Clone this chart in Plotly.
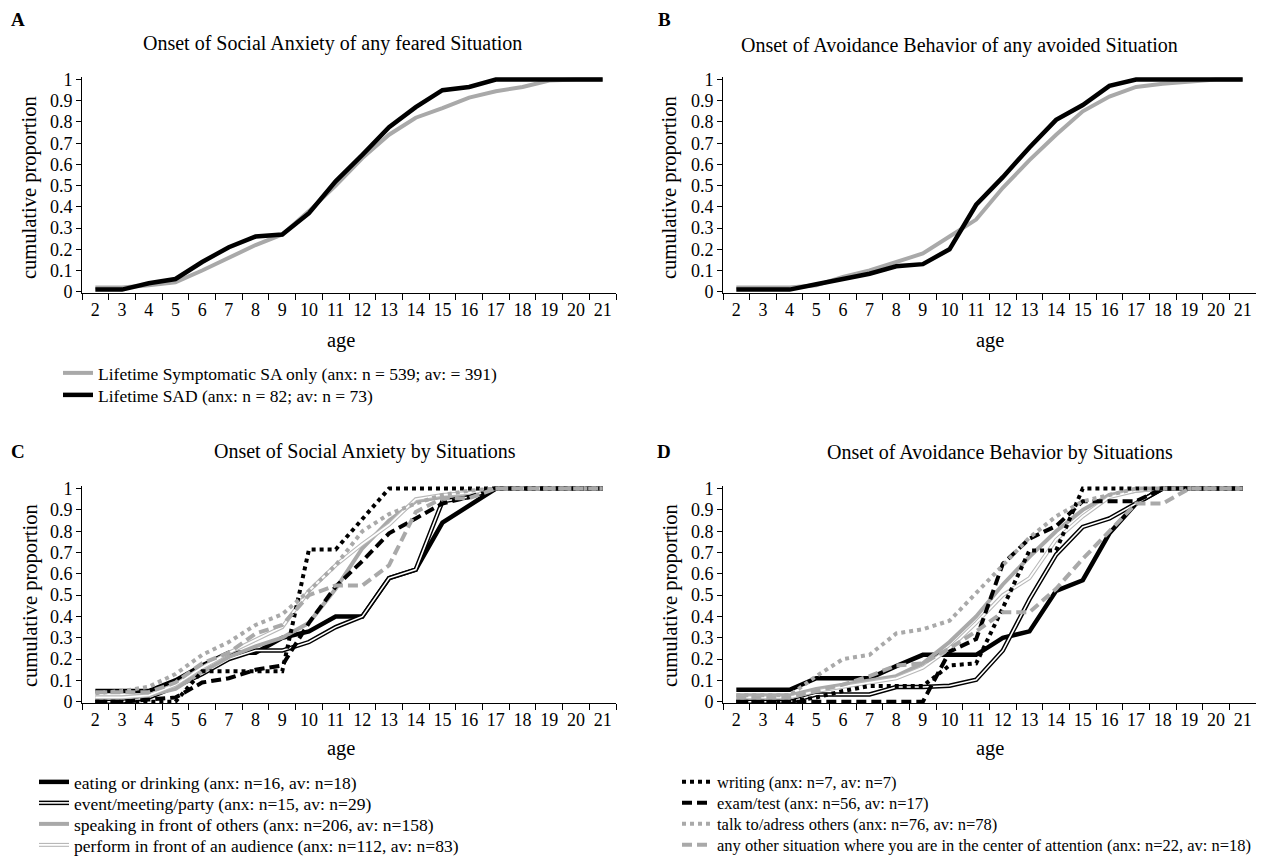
import plotly.graph_objects as go

# ---------------- data ----------------
ages = [str(a) for a in range(2, 22)]

# Panel A: onset of social anxiety of any feared situation
a_sa_only = [0.02, 0.02, 0.03, 0.045, 0.10, 0.16, 0.22, 0.27, 0.38, 0.50,
             0.63, 0.74, 0.82, 0.865, 0.915, 0.945, 0.965, 0.995, 1.0, 1.0]
a_sad = [0.01, 0.01, 0.04, 0.06, 0.14, 0.21, 0.26, 0.27, 0.37, 0.52,
         0.645, 0.775, 0.87, 0.95, 0.965, 1.0, 1.0, 1.0, 1.0, 1.0]

# Panel B: onset of avoidance behavior of any avoided situation
b_sa_only = [0.02, 0.02, 0.02, 0.03, 0.07, 0.10, 0.14, 0.18, 0.26, 0.34,
             0.49, 0.62, 0.74, 0.85, 0.92, 0.965, 0.98, 0.99, 1.0, 1.0]
b_sad = [0.01, 0.01, 0.01, 0.035, 0.06, 0.085, 0.12, 0.13, 0.20, 0.41,
         0.54, 0.68, 0.81, 0.88, 0.97, 1.0, 1.0, 1.0, 1.0, 1.0]

# Panel C: onset of social anxiety by situations
c_eating = [0.05, 0.05, 0.05, 0.10, 0.17, 0.23, 0.23, 0.30, 0.33, 0.40,
            0.40, 0.58, 0.62, 0.84, 0.92, 1.0, 1.0, 1.0, 1.0, 1.0]
c_event = [0.0, 0.0, 0.02, 0.07, 0.13, 0.20, 0.24, 0.24, 0.28, 0.35,
           0.40, 0.58, 0.62, 0.94, 0.96, 1.0, 1.0, 1.0, 1.0, 1.0]
c_speaking = [0.02, 0.02, 0.03, 0.06, 0.14, 0.21, 0.26, 0.30, 0.37, 0.53,
              0.72, 0.85, 0.94, 0.96, 0.98, 1.0, 1.0, 1.0, 1.0, 1.0]
c_perform = [0.02, 0.02, 0.03, 0.08, 0.16, 0.23, 0.29, 0.35, 0.52, 0.64,
             0.74, 0.83, 0.95, 0.97, 0.98, 1.0, 1.0, 1.0, 1.0, 1.0]
c_writing = [0.0, 0.0, 0.0, 0.0, 0.143, 0.143, 0.143, 0.143, 0.714, 0.714,
             0.857, 1.0, 1.0, 1.0, 1.0, 1.0, 1.0, 1.0, 1.0, 1.0]
c_exam = [0.0, 0.0, 0.01, 0.02, 0.09, 0.11, 0.15, 0.17, 0.37, 0.54,
          0.66, 0.79, 0.86, 0.93, 0.96, 1.0, 1.0, 1.0, 1.0, 1.0]
c_talk = [0.04, 0.05, 0.07, 0.13, 0.22, 0.28, 0.36, 0.41, 0.52, 0.64,
          0.80, 0.88, 0.93, 0.97, 0.99, 1.0, 1.0, 1.0, 1.0, 1.0]
c_other = [0.045, 0.045, 0.045, 0.09, 0.18, 0.23, 0.32, 0.36, 0.50, 0.545,
           0.545, 0.64, 0.89, 0.955, 0.955, 1.0, 1.0, 1.0, 1.0, 1.0]

# Panel D: onset of avoidance behavior by situations
d_eating = [0.056, 0.056, 0.056, 0.11, 0.11, 0.11, 0.167, 0.22, 0.22, 0.22,
            0.30, 0.33, 0.52, 0.57, 0.79, 0.93, 1.0, 1.0, 1.0, 1.0]
d_event = [0.0, 0.0, 0.0, 0.034, 0.034, 0.034, 0.069, 0.069, 0.075, 0.103,
           0.24, 0.48, 0.69, 0.82, 0.86, 0.93, 1.0, 1.0, 1.0, 1.0]
d_speaking = [0.03, 0.03, 0.03, 0.06, 0.08, 0.10, 0.12, 0.18, 0.28, 0.40,
              0.55, 0.68, 0.80, 0.90, 0.97, 0.99, 1.0, 1.0, 1.0, 1.0]
d_perform = [0.02, 0.02, 0.02, 0.05, 0.07, 0.09, 0.11, 0.16, 0.25, 0.37,
             0.50, 0.58, 0.76, 0.87, 0.96, 0.99, 1.0, 1.0, 1.0, 1.0]
d_writing = [0.0, 0.0, 0.0, 0.02, 0.05, 0.074, 0.074, 0.074, 0.17, 0.18,
             0.44, 0.71, 0.71, 1.0, 1.0, 1.0, 1.0, 1.0, 1.0, 1.0]
d_exam = [0.0, 0.0, 0.0, 0.0, 0.0, 0.0, 0.0, 0.0, 0.235, 0.294,
          0.647, 0.765, 0.824, 0.941, 0.941, 0.941, 1.0, 1.0, 1.0, 1.0]
d_talk = [0.03, 0.03, 0.03, 0.12, 0.20, 0.22, 0.32, 0.34, 0.38, 0.51,
          0.64, 0.77, 0.87, 0.94, 0.97, 1.0, 1.0, 1.0, 1.0, 1.0]
d_other = [0.02, 0.02, 0.02, 0.05, 0.08, 0.12, 0.17, 0.18, 0.25, 0.33,
           0.42, 0.42, 0.53, 0.67, 0.80, 0.93, 0.93, 1.0, 1.0, 1.0]

legend_ab = ["Lifetime Symptomatic SA only (anx: n = 539; av: = 391)",
             "Lifetime SAD (anx: n = 82; av: n = 73)"]
situations = ["eating or drinking (anx: n=16, av: n=18)",
              "event/meeting/party (anx: n=15, av: n=29)",
              "speaking in front of others (anx: n=206, av: n=158)",
              "perform in front of an audience (anx: n=112, av: n=83)",
              "writing (anx: n=7, av: n=7)",
              "exam/test (anx: n=56, av: n=17)",
              "talk to/adress others (anx: n=76, av: n=78)",
              "any other situation where you are in the center of attention (anx: n=22, av: n=18)"]
titles = ["Onset of Social Anxiety of any feared Situation",
          "Onset of Avoidance Behavior of any avoided Situation",
          "Onset of Social Anxiety by Situations",
          "Onset of Avoidance Behavior by Situations"]
y_ticks = [round(i / 10, 1) for i in range(11)]
y_ticktext = ["0"] + ["%.1f" % v for v in y_ticks[1:-1]] + ["1"]

# ---------------- styling ----------------
FONT = "Liberation Serif, Times New Roman, serif"
W, H = 1263, 856
BLACK = "#000000"
GRAY = "#a9a9a9"
LGRAY = "#b8b8b8"
TICK_SIZE = 18
LEG_SIZE = 17.5
LEG_SIZE_D = 16.5
TITLE_SIZE = 20
AXTITLE_SIZE = 20.5


def px(x):
    return x / W


def py(y):
    return 1 - y / H


fig = go.Figure()

doms_x = {"L": [px(82), px(616)], "R": [px(723), px(1256)]}
doms_y = {"T": [py(293), py(77)], "B": [py(703), py(486)]}
panels = [("x", "y", "L", "T"), ("x2", "y2", "R", "T"),
          ("x3", "y3", "L", "B"), ("x4", "y4", "R", "B")]
layout_axes = {}
for i, (xa, ya, dx, dy) in enumerate(panels):
    xn = "xaxis" if i == 0 else "xaxis%d" % (i + 1)
    yn = "yaxis" if i == 0 else "yaxis%d" % (i + 1)
    layout_axes[xn] = dict(domain=doms_x[dx], anchor=ya, type="category",
                           tickson="boundaries", ticks="outside", ticklen=6,
                           tickcolor=BLACK, showline=True, linecolor=BLACK,
                           linewidth=1, showgrid=False, zeroline=False,
                           range=[-0.5, 19.5], tickangle=0,
                           tickfont=dict(family=FONT, size=TICK_SIZE, color=BLACK))
    layout_axes[yn] = dict(domain=doms_y[dy], anchor=xa, range=[-0.006, 1.012],
                           tickvals=y_ticks, ticktext=y_ticktext,
                           ticks="outside", ticklen=5, tickcolor=BLACK,
                           showline=True, linecolor=BLACK, linewidth=1,
                           showgrid=False, zeroline=False,
                           tickfont=dict(family=FONT, size=TICK_SIZE, color=BLACK))
fig.update_layout(**layout_axes)


def line(x, y, xa, ya, color, width, dash="solid", name=None, legend=None,
         showlegend=False):
    fig.add_trace(go.Scatter(x=x, y=y, xaxis=xa, yaxis=ya, mode="lines",
                             line=dict(color=color, width=width, dash=dash),
                             name=name, legend=legend or "legend",
                             showlegend=showlegend, hoverinfo="skip"))


# Panels A and B
line(ages, a_sa_only, "x", "y", GRAY, 4, name=legend_ab[0], legend="legend",
     showlegend=True)
line(ages, a_sad, "x", "y", BLACK, 4.5, name=legend_ab[1], legend="legend2",
     showlegend=True)
line(ages, b_sa_only, "x2", "y2", GRAY, 4)
line(ages, b_sad, "x2", "y2", BLACK, 4.5)

# Panels C and D
styles = [(BLACK, 4.5, "solid", None),
          (BLACK, 4.5, "solid", 1.6),
          (GRAY, 4, "solid", None),
          (LGRAY, 4, "solid", 1.8),
          (BLACK, 4, "dot", None),
          (BLACK, 4, "10px,5px", None),
          (GRAY, 4, "dot", None),
          (GRAY, 4, "10px,5px", None)]
c_series = [c_eating, c_event, c_speaking, c_perform,
            c_writing, c_exam, c_talk, c_other]
d_series = [d_eating, d_event, d_speaking, d_perform,
            d_writing, d_exam, d_talk, d_other]
overlay_legend = {1: "legend11", 3: "legend12"}

for panel_series, xa, ya, first in [(c_series, "x3", "y3", True),
                                    (d_series, "x4", "y4", False)]:
    for k, (vals, (col, wd, dash, inner)) in enumerate(zip(panel_series, styles)):
        leg = "legend%d" % (k + 3)
        line(ages, vals, xa, ya, col, wd, dash, name=situations[k], legend=leg,
             showlegend=first)
        if inner:
            line(ages, vals, xa, ya, "white", inner, name=situations[k],
                 legend=overlay_legend[k], showlegend=first)

# legend rows: (legend id, text start x, row centre y, font size)
ROWS_CD = [782, 803, 824, 845]
leg_rows = [("legend", 98, 373, LEG_SIZE), ("legend2", 98, 395, LEG_SIZE)]
for k in range(4):
    leg_rows.append(("legend%d" % (k + 3), 74, ROWS_CD[k], LEG_SIZE))
for k in range(4):
    leg_rows.append(("legend%d" % (k + 7), 717, ROWS_CD[k], LEG_SIZE_D))
leg_rows += [("legend11", 74, ROWS_CD[1], LEG_SIZE),
             ("legend12", 74, ROWS_CD[3], LEG_SIZE)]
TEXT_OFFSET = 40
leg_layout = {}
for name, tx, cy, fs in leg_rows:
    transparent = name in ("legend11", "legend12")
    leg_layout[name] = dict(
        x=px(tx - TEXT_OFFSET), y=py(cy), xanchor="left", yanchor="middle",
        font=dict(family=FONT, size=fs,
                  color="rgba(0,0,0,0)" if transparent else BLACK),
        bgcolor="rgba(0,0,0,0)", borderwidth=0, itemclick=False,
        itemdoubleclick=False)
fig.update_layout(**leg_layout)

ann = []
for txt, x, y in [(titles[0], 332, 44), (titles[1], 959, 45),
                  (titles[2], 365, 451), (titles[3], 1000, 452)]:
    ann.append(dict(text=txt, x=px(x), y=py(y), xref="paper", yref="paper",
                    showarrow=False, xanchor="center", yanchor="middle",
                    font=dict(family=FONT, size=TITLE_SIZE, color=BLACK)))
for txt, x, y in [("A", 18, 20), ("B", 664, 20), ("C", 18, 451), ("D", 664, 451)]:
    ann.append(dict(text="<b>%s</b>" % txt, x=px(x), y=py(y), xref="paper",
                    yref="paper", showarrow=False, xanchor="center",
                    yanchor="middle",
                    font=dict(family=FONT, size=19, color=BLACK)))
for x, y in [(341, 340), (990, 340), (341, 748), (990, 748)]:
    ann.append(dict(text="age", x=px(x), y=py(y), xref="paper", yref="paper",
                    showarrow=False, xanchor="center", yanchor="middle",
                    font=dict(family=FONT, size=AXTITLE_SIZE, color=BLACK)))
for x, y in [(30, 188), (670, 188), (30, 596), (670, 596)]:
    ann.append(dict(text="cumulative proportion", x=px(x), y=py(y),
                    xref="paper", yref="paper", showarrow=False,
                    textangle=-90, xanchor="center", yanchor="middle",
                    font=dict(family=FONT, size=AXTITLE_SIZE, color=BLACK)))

fig.update_layout(width=W, height=H,
                  margin=dict(l=0, r=0, t=0, b=0, autoexpand=False),
                  paper_bgcolor="white", plot_bgcolor="white",
                  annotations=ann, hovermode=False)

fig.write_html(
    "out.html",
    config={"displayModeBar": False, "staticPlot": True},
    post_script=(
        "document.documentElement.style.margin='0px';"
        "document.documentElement.style.overflow='hidden';"
        "document.body.style.margin='0px';"
        "document.body.style.overflow='hidden';"
    ),
)
